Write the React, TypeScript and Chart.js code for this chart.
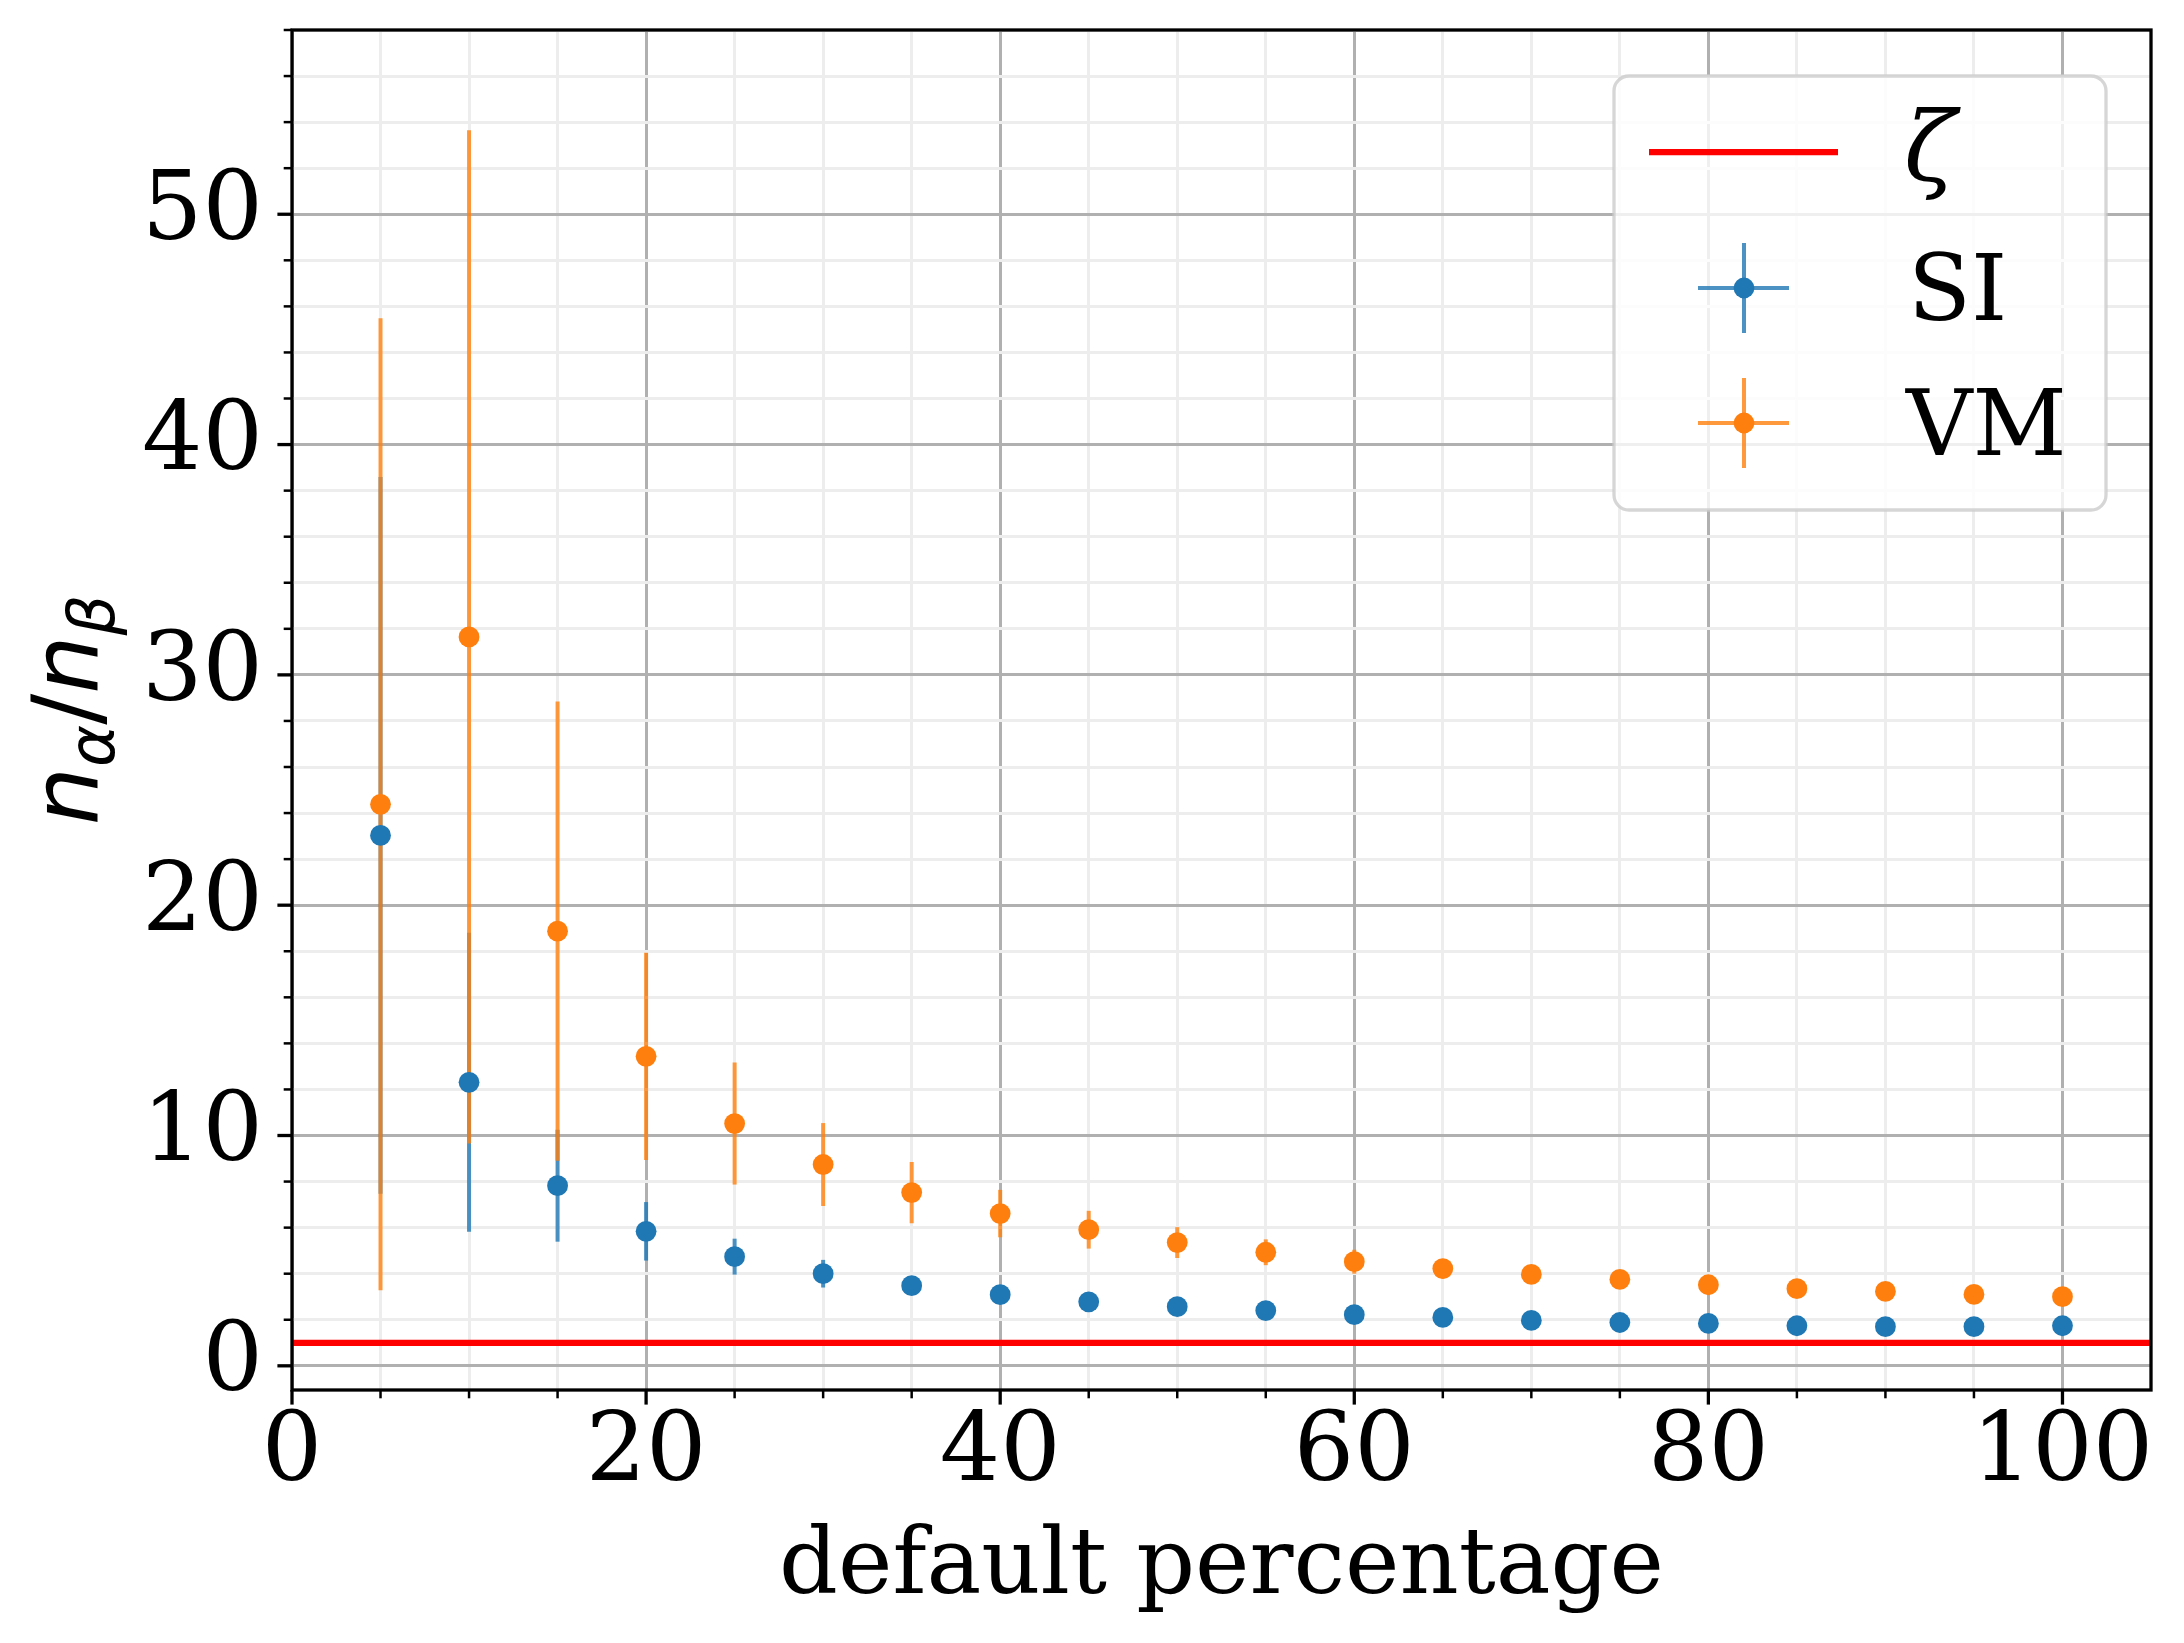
import { useEffect, useRef } from "react";
import { Chart, registerables, type Plugin } from "chart.js";

Chart.register(...registerables);

// default percentage (x)
const percentages = [5, 10, 15, 20, 25, 30, 35, 40, 45, 50, 55, 60, 65, 70, 75, 80, 85, 90, 95, 100];

// SI: mean ratio and half error bar
const siMean = [23.03, 12.31, 7.82, 5.84, 4.74, 4.0, 3.48, 3.09, 2.78, 2.57, 2.4, 2.22, 2.1, 1.97, 1.88, 1.84, 1.74, 1.7, 1.7, 1.74];
const siErr = [15.56, 6.49, 2.43, 1.27, 0.78, 0.6, 0.4, 0.3, 0.24, 0.2, 0.16, 0.14, 0.12, 0.1, 0.09, 0.08, 0.07, 0.07, 0.06, 0.06];

// VM: mean ratio and half error bar
const vmMean = [24.38, 31.65, 18.87, 13.44, 10.52, 8.74, 7.52, 6.61, 5.91, 5.35, 4.93, 4.52, 4.22, 3.97, 3.75, 3.52, 3.35, 3.23, 3.1, 3.0];
const vmErr = [21.1, 22.0, 9.97, 4.5, 2.65, 1.8, 1.33, 1.03, 0.82, 0.67, 0.56, 0.52, 0.42, 0.36, 0.32, 0.28, 0.25, 0.22, 0.2, 0.18];

// reference level ζ
const zeta = 1;

const X_MIN = 0;
const X_MAX = 105;
const Y_MIN = -1.05;
const Y_MAX = 58;

const xTickValues = [0, 5, 10, 15, 20, 25, 30, 35, 40, 45, 50, 55, 60, 65, 70, 75, 80, 85, 90, 95, 100];
const xTickLabels = [0, 20, 40, 60, 80, 100];
const yTickValues = [0, 2, 4, 6, 8, 10, 12, 14, 16, 18, 20, 22, 24, 26, 28, 30, 32, 34, 36, 38, 40, 42, 44, 46, 48, 50, 52, 54, 56, 58];
const yTickLabels = [0, 10, 20, 30, 40, 50];

const SI_COLOR = "#1f77b4";
const VM_COLOR = "#ff7f0e";
const SI_BAR = "rgba(31, 119, 180, 0.8)";
const VM_BAR = "rgba(255, 127, 14, 0.8)";
const SERIF = '"DejaVu Serif", serif';

const errorBars: Plugin<"scatter"> = {
    id: "errorBars",
    beforeDatasetsDraw(chart) {
        const { ctx, chartArea } = chart;
        const x = chart.scales.x;
        const y = chart.scales.y;
        ctx.save();
        ctx.beginPath();
        ctx.rect(chartArea.left, chartArea.top, chartArea.width, chartArea.height);
        ctx.clip();
        ctx.lineWidth = 4;
        const series: [number[], number[], string][] = [
            [siMean, siErr, SI_BAR],
            [vmMean, vmErr, VM_BAR],
        ];
        for (const [mean, err, color] of series) {
            ctx.strokeStyle = color;
            percentages.forEach((p, i) => {
                const px = x.getPixelForValue(p);
                ctx.beginPath();
                ctx.moveTo(px, y.getPixelForValue(mean[i] - err[i]));
                ctx.lineTo(px, y.getPixelForValue(mean[i] + err[i]));
                ctx.stroke();
            });
        }
        ctx.restore();
    },
};

// spines, tick marks, axis titles and the legend box
const decorations: Plugin<"scatter"> = {
    id: "decorations",
    afterDraw(chart) {
        const { ctx, chartArea } = chart;
        const { left, right, top, bottom } = chartArea;
        const x = chart.scales.x;
        const y = chart.scales.y;
        ctx.save();

        // tick marks
        ctx.strokeStyle = "#000";
        x.ticks.forEach(t => {
            const major = xTickLabels.includes(t.value);
            const px = x.getPixelForValue(t.value);
            ctx.lineWidth = major ? 3.3 : 2.5;
            ctx.beginPath();
            ctx.moveTo(px, bottom);
            ctx.lineTo(px, bottom + (major ? 14.6 : 8.3));
            ctx.stroke();
        });
        y.ticks.forEach(t => {
            const major = yTickLabels.includes(t.value);
            const py = y.getPixelForValue(t.value);
            ctx.lineWidth = major ? 3.3 : 2.5;
            ctx.beginPath();
            ctx.moveTo(left, py);
            ctx.lineTo(left - (major ? 14.6 : 8.3), py);
            ctx.stroke();
        });

        // frame
        ctx.lineWidth = 3.3;
        ctx.strokeRect(left, top, right - left, bottom - top);

        // x title
        ctx.fillStyle = "#000";
        ctx.font = `92px ${SERIF}`;
        ctx.textAlign = "center";
        ctx.textBaseline = "alphabetic";
        ctx.fillText("default percentage", (left + right) / 2, 1593);

        // y title: n_α / n_β
        const big = 'italic 92px "DejaVu Sans", sans-serif';
        const small = 'italic 64px "DejaVu Sans", sans-serif';
        const slash = '92px "DejaVu Sans", sans-serif';
        const parts: [string, string, number][] = [
            ["n", big, 0],
            ["α", small, 16],
            ["/", slash, 0],
            ["n", big, 0],
            ["β", small, 16],
        ];
        let total = 0;
        for (const [txt, f] of parts) {
            ctx.font = f;
            total += ctx.measureText(txt).width;
        }
        ctx.translate(98, (top + bottom) / 2 + total / 2);
        ctx.rotate(-Math.PI / 2);
        ctx.textAlign = "left";
        let cx = 0;
        for (const [txt, f, dy] of parts) {
            ctx.font = f;
            ctx.fillText(txt, cx, dy);
            cx += ctx.measureText(txt).width;
        }
        ctx.setTransform(1, 0, 0, 1, 0, 0);

        // legend
        const bx = 1614, by = 76, bw = 492, bh = 434, r = 15;
        ctx.beginPath();
        ctx.roundRect(bx, by, bw, bh, r);
        ctx.fillStyle = "rgba(255, 255, 255, 0.8)";
        ctx.fill();
        ctx.lineWidth = 3.3;
        ctx.strokeStyle = "rgba(204, 204, 204, 0.8)";
        ctx.stroke();

        // ζ entry
        ctx.strokeStyle = "#ff0000";
        ctx.lineWidth = 6.25;
        ctx.beginPath();
        ctx.moveTo(1649, 152);
        ctx.lineTo(1838, 152);
        ctx.stroke();

        const entries: [string, string, string, number][] = [
            ["SI", SI_COLOR, SI_BAR, 288],
            ["VM", VM_COLOR, VM_BAR, 423],
        ];
        for (const [, color, bar, cy] of entries) {
            ctx.strokeStyle = bar;
            ctx.lineWidth = 4;
            ctx.beginPath();
            ctx.moveTo(1698, cy);
            ctx.lineTo(1789, cy);
            ctx.moveTo(1744, cy - 45);
            ctx.lineTo(1744, cy + 45);
            ctx.stroke();
            ctx.fillStyle = color;
            ctx.beginPath();
            ctx.arc(1744, cy, 10.4, 0, Math.PI * 2);
            ctx.fill();
        }

        ctx.fillStyle = "#000";
        ctx.textAlign = "left";
        ctx.font = `italic 96px ${SERIF}`;
        ctx.fillText("ζ", 1904, 180);
        ctx.font = `92px ${SERIF}`;
        ctx.fillText("SI", 1908, 320);
        ctx.fillText("VM", 1906, 455);

        ctx.restore();
    },
};

const ErrorBarChart = () => {
    const canvasRef = useRef<HTMLCanvasElement | null>(null);
    const chartRef = useRef<Chart<"scatter"> | null>(null);

    useEffect(() => {
        if (!canvasRef.current) return;

        const gridColor = (ctx: any, labels: number[]) =>
            labels.includes(ctx.tick.value) ? "#b0b0b0" : "#ededed";

        chartRef.current = new Chart(canvasRef.current, {
            type: "scatter",
            data: {
                datasets: [
                    {
                        type: "line",
                        label: "ζ",
                        data: [{ x: X_MIN, y: zeta }, { x: X_MAX, y: zeta }],
                        borderColor: "#ff0000",
                        borderWidth: 6.25,
                        pointRadius: 0,
                        order: 3,
                    } as any,
                    {
                        label: "SI",
                        data: percentages.map((p, i) => ({ x: p, y: siMean[i] })),
                        backgroundColor: SI_COLOR,
                        borderWidth: 0,
                        pointRadius: 10.4,
                        order: 2,
                    },
                    {
                        label: "VM",
                        data: percentages.map((p, i) => ({ x: p, y: vmMean[i] })),
                        backgroundColor: VM_COLOR,
                        borderWidth: 0,
                        pointRadius: 10.4,
                        order: 1,
                    },
                ],
            },
            options: {
                responsive: false,
                devicePixelRatio: 1,
                animation: false,
                layout: { padding: { top: 30, right: 33, left: 0, bottom: 0 } },
                plugins: {
                    legend: { display: false },
                    tooltip: { enabled: false },
                },
                scales: {
                    x: {
                        type: "linear",
                        min: X_MIN,
                        max: X_MAX,
                        afterBuildTicks: (axis: any) => {
                            axis.ticks = xTickValues.map(value => ({ value }));
                        },
                        afterFit: (axis: any) => {
                            axis.height = 253;
                            axis.paddingLeft = 0;
                            axis.paddingRight = 0;
                        },
                        grid: {
                            color: (ctx: any) => gridColor(ctx, xTickLabels),
                            lineWidth: 3,
                            drawTicks: false,
                        },
                        border: { display: false },
                        ticks: {
                            autoSkip: false,
                            maxRotation: 0,
                            padding: 8,
                            color: "#000",
                            font: { family: SERIF, size: 95 },
                            callback: (value: any) => (xTickLabels.includes(Number(value)) ? String(value) : ""),
                        },
                    },
                    y: {
                        type: "linear",
                        min: Y_MIN,
                        max: Y_MAX,
                        afterBuildTicks: (axis: any) => {
                            axis.ticks = yTickValues.map(value => ({ value }));
                        },
                        afterFit: (axis: any) => {
                            axis.width = 292;
                            axis.paddingTop = 0;
                            axis.paddingBottom = 0;
                        },
                        grid: {
                            color: (ctx: any) => gridColor(ctx, yTickLabels),
                            lineWidth: 3,
                            drawTicks: false,
                        },
                        border: { display: false },
                        ticks: {
                            autoSkip: false,
                            padding: 29,
                            color: "#000",
                            font: { family: SERIF, size: 95 },
                            callback: (value: any) => (yTickLabels.includes(Number(value)) ? String(value) : ""),
                        },
                    },
                },
            },
            plugins: [errorBars, decorations],
        });

        return () => {
            if (chartRef.current) chartRef.current.destroy();
            chartRef.current = null;
        };
    }, []);

    return <canvas ref={canvasRef} width={2184} height={1643} style={{ width: 2184, height: 1643 }} />;
};

export default function App() {
    return (
        <div style={{ position: "fixed", left: 0, top: 0, width: 2184, height: 1643, background: "#fff" }}>
            <ErrorBarChart />
        </div>
    );
}
